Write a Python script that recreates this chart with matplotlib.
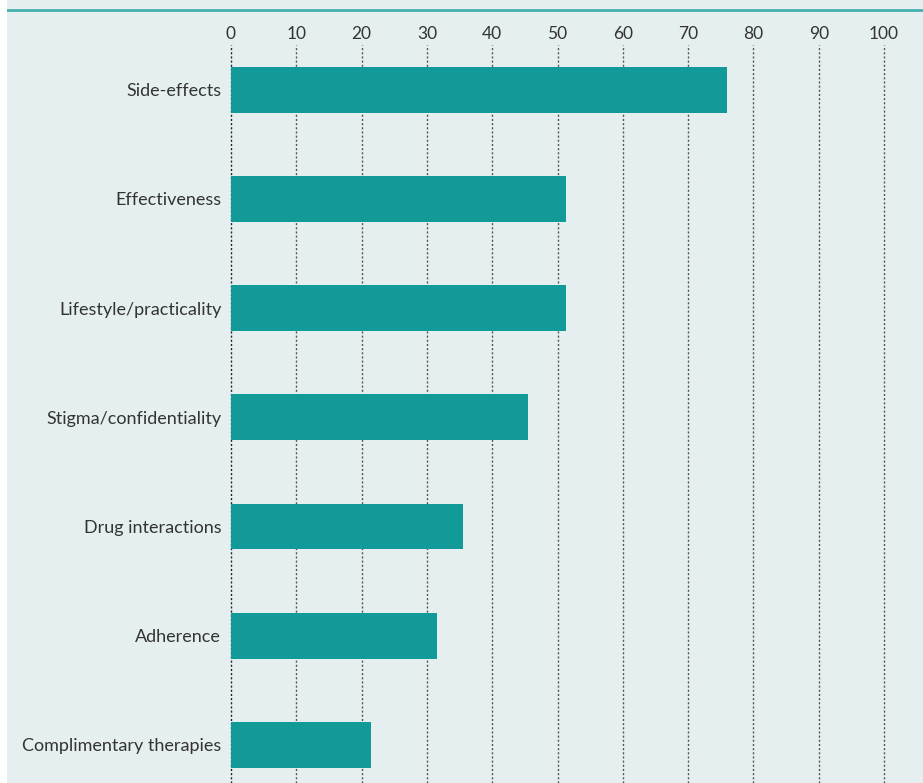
import matplotlib.pyplot as plt

# 数据
categories = ['Side-effects', 'Effectiveness', 'Lifestyle/practicality',
              'Stigma/confidentiality', 'Drug interactions', 'Adherence',
              'Complimentary therapies']
values = [76, 51.3, 51.3, 45.5, 35.5, 31.5, 21.4]
x_ticks = [0, 10, 20, 30, 40, 50, 60, 70, 80, 90, 100]

bg = '#e6eff0'
bar_color = '#119a97'
text_color = '#333333'

plt.rcParams['font.family'] = ['Lato', 'DejaVu Sans']

W, H = 923, 783
fig = plt.figure(figsize=(W / 100, H / 100), dpi=100)
fig.patch.set_facecolor('white')

# 背景面板和顶部线
bg_ax = fig.add_axes([7 / W, 0, 1 - 7 / W, 1], zorder=0)
bg_ax.set_xlim(0, 1)
bg_ax.set_ylim(0, H)
bg_ax.axis('off')
bg_ax.add_patch(plt.Rectangle((0, 0), 1, H, facecolor=bg, edgecolor='none', zorder=0))
bg_ax.axhline(H - 10, color='#45b1ae', linewidth=2)

ax = fig.add_axes([231 / W, 0, (884 - 231) / W, 1 - 45 / H], zorder=1)
ax.set_facecolor('none')

y = list(range(len(categories)))
ax.barh(y, values, height=0.42, color=bar_color, zorder=3)

ax.set_xlim(0, 100)
ax.set_ylim(6.35, -0.41)

for t in x_ticks:
    ax.axvline(t, color='#222222' if t == 0 else '#555555', linestyle=(0, (1.5, 1.5)),
               linewidth=1, zorder=2, clip_on=False)

ax.xaxis.tick_top()
ax.set_xticks(x_ticks)
ax.set_xticklabels([str(t) for t in x_ticks], fontsize=12.5, color=text_color)
ax.tick_params(axis='x', length=0, pad=2)
ax.set_yticks(y)
ax.set_yticklabels(categories, fontsize=13, color=text_color)
ax.tick_params(axis='y', length=0, pad=7)

for s in ax.spines.values():
    s.set_visible(False)

fig.savefig('out.png', dpi=100, facecolor=fig.get_facecolor())
